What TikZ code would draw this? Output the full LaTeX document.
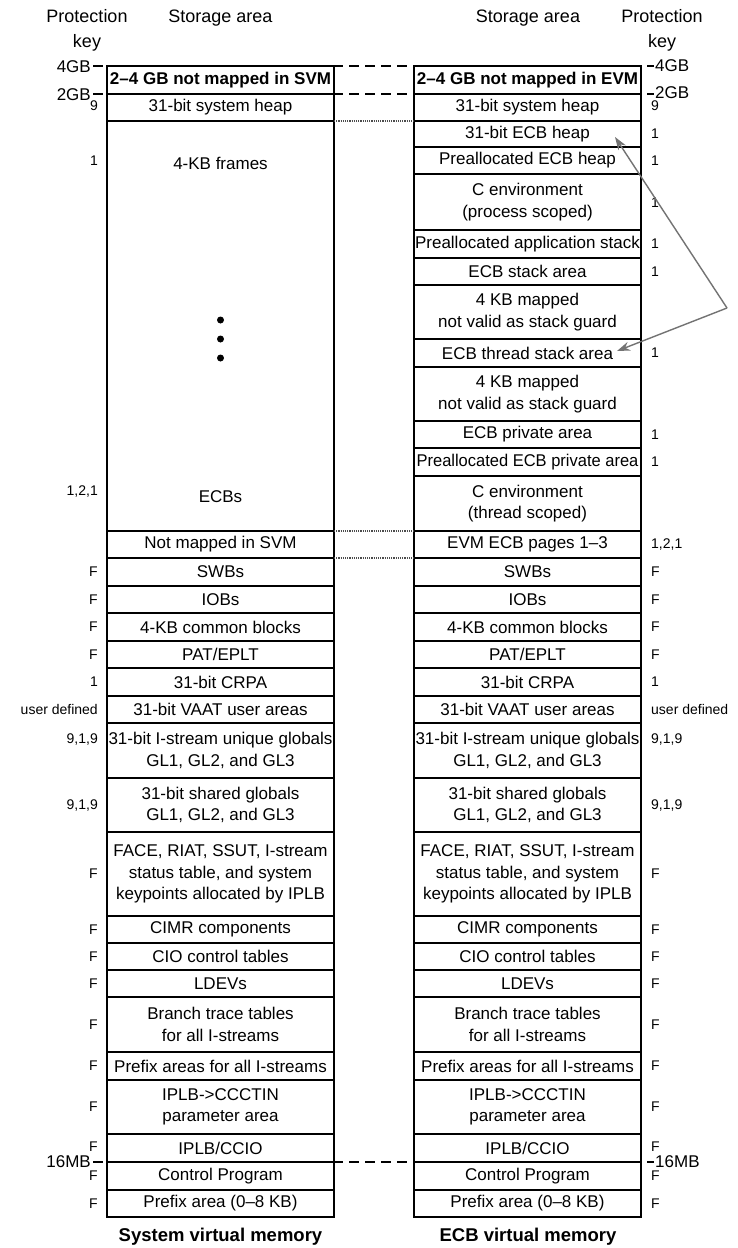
\documentclass[tikz,border=0pt]{standalone}
\usepackage{fontspec}
\setmainfont{Liberation Sans}
\usetikzlibrary{arrows.meta}
\newcommand\myCellFont{\fontsize{17}{21.5}\selectfont}
\newcommand\myKeyFont{\fontsize{14}{16}\selectfont}
\newcommand\myHeadFont{\fontsize{18}{25}\selectfont}
\newcommand\myGBFont{\fontsize{17}{20}\selectfont}
\newcommand\myTitleFont{\fontsize{18.5}{22}\selectfont\bfseries}
% row helper: name, x-center, top, bottom, text
\newcommand\mrow[5]{\node[cell, minimum height={#4-#3}] (#1) at (#2,{(#3+#4)/2}) {#5};}
\begin{document}
\begin{tikzpicture}[x=1pt,y=-1pt,
  cell/.style={draw, line width=2.2pt, minimum width=227pt, inner sep=0pt, outer sep=0pt, align=center, font=\myCellFont},
  bcell/.style={cell, font=\myCellFont\bfseries},
  txt/.style={inner sep=0pt, align=center, font=\myCellFont},
  lkey/.style={anchor=east, inner sep=0pt, font=\myKeyFont},
  rkey/.style={anchor=west, inner sep=0pt, font=\myKeyFont},
  gb/.style={inner sep=0pt, font=\myGBFont},
  head/.style={inner sep=0pt, align=center, font=\myHeadFont},
  title/.style={inner sep=0pt, font=\myTitleFont},
  gbline/.style={line width=2pt, dash pattern=on 10pt off 6pt},
  tick/.style={line width=2pt},
  dotline/.style={line width=1.6pt, black!70, dash pattern=on 1.2pt off 1pt},
  ptr/.style={line width=1.4pt, black!55, -{Stealth[length=13pt,width=9pt]}},
  bigdot/.style={circle, fill, inner sep=0pt, minimum size=7pt}
]
\fill[white] (0,0) rectangle (738,1248);
\useasboundingbox (0,0) rectangle (738,1248);

% headers
\node[head] (hpl) at (87,30) {Protection\\key};
\node[head] (hsl) at (220.5,18) {Storage area};
\node[head] (hsr) at (528,18) {Storage area};
\node[head] (hpr) at (662,30) {Protection\\key};

% boundary lines (GB marks)
\coordinate (g4l) at (93,66);  \coordinate (g4r) at (641,66);
\coordinate (g2l) at (93,94);  \coordinate (g2r) at (641,94);
\coordinate (g16l) at (93,1162); \coordinate (g16r) at (641,1162);
\coordinate (k4a) at (647,66);  \coordinate (k4b) at (654,66);
\coordinate (k2a) at (647,94);  \coordinate (k2b) at (654,94);
\coordinate (k16a) at (647,1162); \coordinate (k16b) at (654,1162);
\draw[gbline] (g4l) -- (g4r);
\draw[gbline] (g2l) -- (g2r);
\draw[gbline] (g16l) -- (g16r);
\draw[tick] (k4a) -- (k4b);
\draw[tick] (k2a) -- (k2b);
\draw[tick] (k16a) -- (k16b);
\node[gb, anchor=east] (t4l) at (91,67) {4GB};
\node[gb, anchor=east] (t2l) at (91,95) {2GB};
\node[gb, anchor=east] (t16l) at (91,1162) {16MB};
\node[gb, anchor=west] (t4r) at (655,66) {4GB};
\node[gb, anchor=west] (t2r) at (655,93) {2GB};
\node[gb, anchor=west] (t16r) at (655,1162) {16MB};

% ---------- left column (System virtual memory) ----------
\def\xl{220.5}
\node[bcell, minimum height=28] (L1) at (\xl,80) {2--4 GB not mapped in SVM};
\mrow{L2}{\xl}{94}{121}{31-bit system heap}
\mrow{L3}{\xl}{121}{531}{}
\node[txt] (L3a) at (\xl,163) {4-KB frames};
\node[bigdot] (d1) at (\xl,320) {};
\node[bigdot] (d2) at (\xl,339) {};
\node[bigdot] (d3) at (\xl,358) {};
\node[txt] (L3b) at (\xl,497) {ECBs};
\mrow{L4}{\xl}{531}{558}{Not mapped in SVM}

% ---------- right column (ECB virtual memory) ----------
\def\xr{527.5}
\node[bcell, minimum height=28] (R1) at (\xr,80) {2--4 GB not mapped in EVM};
\mrow{R2}{\xr}{94}{121}{31-bit system heap}
\mrow{R3}{\xr}{121}{147}{31-bit ECB heap}
\mrow{R4}{\xr}{147}{174}{Preallocated ECB heap}
\mrow{R5}{\xr}{174}{230}{C environment\\(process scoped)}
\mrow{R6}{\xr}{230}{258}{Preallocated application stack}
\mrow{R7}{\xr}{258}{285}{ECB stack area}
\mrow{R8}{\xr}{285}{339}{4 KB mapped\\not valid as stack guard}
\mrow{R9}{\xr}{339}{367}{ECB thread stack area}
\mrow{R10}{\xr}{367}{421}{4 KB mapped\\not valid as stack guard}
\mrow{R11}{\xr}{421}{448}{ECB private area}
\mrow{R12}{\xr}{448}{476}{\scalebox{0.97}[1]{Preallocated ECB private area}}
\mrow{R13}{\xr}{476}{531}{C environment\\(thread scoped)}
\mrow{R14}{\xr}{531}{558}{EVM ECB pages 1--3}

% ---------- common rows, both columns ----------
\foreach \s/\x in {A/220.5, B/527.5}{
\mrow{\s1}{\x}{558}{586}{SWBs}
\mrow{\s2}{\x}{586}{613}{IOBs}
\mrow{\s3}{\x}{613}{641}{4-KB common blocks}
\mrow{\s4}{\x}{641}{668}{PAT/EPLT}
\mrow{\s5}{\x}{668}{696}{31-bit CRPA}
\mrow{\s6}{\x}{696}{723}{31-bit VAAT user areas}
\mrow{\s7}{\x}{723}{778}{31-bit I-stream unique globals\\GL1, GL2, and GL3}
\mrow{\s8}{\x}{778}{832}{31-bit shared globals\\GL1, GL2, and GL3}
\mrow{\s9}{\x}{832}{916}{FACE, RIAT, SSUT, I-stream\\status table, and system\\keypoints allocated by IPLB}
\mrow{\s10}{\x}{916}{943}{CIMR components}
\mrow{\s11}{\x}{943}{970}{CIO control tables}
\mrow{\s12}{\x}{970}{997}{LDEVs}
\mrow{\s13}{\x}{997}{1052}{Branch trace tables\\for all I-streams}
\mrow{\s14}{\x}{1052}{1080}{Prefix areas for all I-streams}
\mrow{\s15}{\x}{1080}{1134}{IPLB->CCCTIN\\parameter area}
\mrow{\s16}{\x}{1134}{1162}{IPLB/CCIO}
\mrow{\s17}{\x}{1162}{1190}{Control Program}
\mrow{\s18}{\x}{1190}{1217}{Prefix area (0--8 KB)}
}

% dotted links between the two columns
\draw[dotline] (L2.south east) -- (R2.south west);
\draw[dotline] (L4.north east) -- (R14.north west);
\draw[dotline] (L4.south east) -- (R14.south west);

% ---------- protection keys, left ----------
\node[lkey] (kl1) at (98,106) {9};
\node[lkey] (kl2) at (98,161) {1};
\node[lkey] (kl3) at (98,491) {1,2,1};
\foreach \n/\y/\t in {4/572/F, 5/599.5/F, 6/627/F, 7/654.5/F, 8/682/1, 9/709.5/user defined,
  10/739/{9,1,9}, 11/805/{9,1,9}, 12/874/F, 13/929.5/F, 14/956.5/F, 15/983.5/F, 16/1024.5/F,
  17/1066/F, 18/1107/F, 19/1147/F, 20/1176/F, 21/1203.5/F}
  \node[lkey] (kl\n) at (98,\y) {\t};

% ---------- protection keys, right ----------
\foreach \n/\y/\t in {1/106/9, 2/134/1, 3/161/1, 4/203/1, 5/244/1, 6/271.5/1, 7/353/1, 8/434.5/1, 9/462/1,
  10/544.5/{1,2,1}, 11/572/F, 12/599.5/F, 13/627/F, 14/654.5/F, 15/682/1, 16/709.5/user defined,
  17/739/{9,1,9}, 18/805/{9,1,9}, 19/874/F, 20/929.5/F, 21/956.5/F, 22/983.5/F, 23/1024.5/F,
  24/1066/F, 25/1107/F, 26/1147/F, 27/1176/F, 28/1203.5/F}
  \node[rkey] (kr\n) at (651,\y) {\t};

% ---------- pointer arrows ----------
\coordinate (apex) at (727,308);
\coordinate (tipA) at (615,137);
\coordinate (tipB) at (617,351);
\draw[ptr] (apex) -- (tipA);
\draw[ptr] (apex) -- (tipB);

% ---------- titles ----------
\node[title] (tl) at (220.5,1237) {System virtual memory};
\node[title] (tr) at (528,1237) {ECB virtual memory};
\end{tikzpicture}
\end{document}
